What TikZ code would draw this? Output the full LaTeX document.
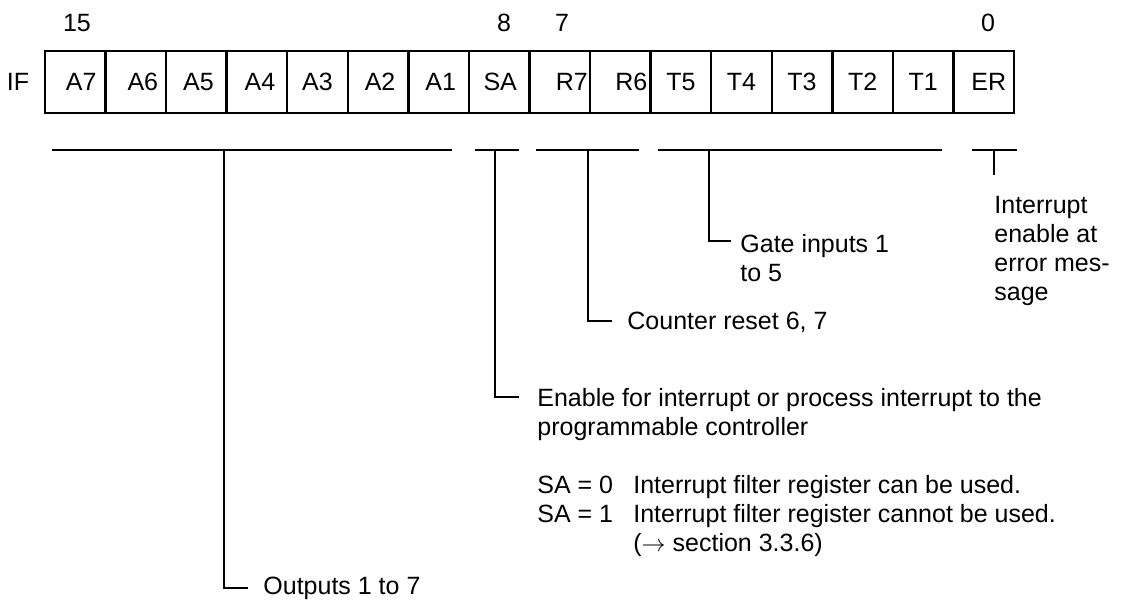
\documentclass[tikz,border=0pt]{standalone}
\usepackage{fontspec}
\setmainfont{Liberation Sans}
\usetikzlibrary{positioning}

\begin{document}
\begin{tikzpicture}[
  x=0.5pt, y=-0.5pt,
  every node/.style={font=\fontsize{12.5pt}{14.5pt}\selectfont, inner sep=0pt},
  bitcell/.style={draw, line width=1.2pt, minimum width=30.28pt, minimum height=31pt},
  brk/.style={line width=1.2pt},
  desc/.style={anchor=north west, align=left},
]
\useasboundingbox (0,0) rectangle (1122,602);
% register word
\node (iflab) at (18,82) {IF};
\foreach \lab/\dx [count=\i from 0] in {A7/6,A6/7,A5/2,A4/3,A3/0,A2/2,A1/2,SA/1,R7/12,R6/11,T5/0,T4/0,T3/0,T2/0,T1/0,ER/5} {
  \node[bitcell] (c\i) at ({45+60.5625*(\i+0.5)},82) {};
  \node (t\i) at ([xshift=0.5*\dx pt]c\i.center) {\lab};
}
% bit numbers
\node (b15) at (77,23) {15};
\node (b8) at (504,23) {8};
\node (b7) at (562,23) {7};
\node (b0) at (988,23) {0};

% outputs
\coordinate (oL) at (52,150); \coordinate (oR) at (452,150);
\coordinate (oS) at (224,150); \coordinate (oE) at (248,588);
\draw[brk] (oL) -- (oR); \draw[brk] (oS) |- (oE);
\node[desc] (outtxt) at ([xshift=7.5pt,yshift=5.5pt]oE) {Outputs 1 to 7};

% SA
\coordinate (sL) at (475,150); \coordinate (sR) at (519,150);
\coordinate (sS) at (495,150); \coordinate (sE) at (519,397);
\draw[brk] (sL) -- (sR); \draw[brk] (sS) |- (sE);
\node[desc] (satxt) at ([xshift=9pt,yshift=4.5pt]sE)
  {Enable for interrupt or process interrupt to the\\programmable controller\\[14.5pt]
   \makebox[48pt][l]{SA = 0}Interrupt filter register can be used.\\
   \makebox[48pt][l]{SA = 1}Interrupt filter register cannot be used.\\
   \hspace*{48pt}($\rightarrow$ section 3.3.6)};

% counter reset
\coordinate (rL) at (536,150); \coordinate (rR) at (639,150);
\coordinate (rS) at (588,150); \coordinate (rE) at (612,321);
\draw[brk] (rL) -- (rR); \draw[brk] (rS) |- (rE);
\node[desc] (rtxt) at ([xshift=7.5pt,yshift=4.5pt]rE) {Counter reset 6, 7};

% gate inputs
\coordinate (gL) at (658,150); \coordinate (gR) at (942,150);
\coordinate (gS) at (709,150); \coordinate (gE) at (731,241);
\draw[brk] (gL) -- (gR); \draw[brk] (gS) |- (gE);
\node[desc] (gtxt) at ([xshift=4.5pt,yshift=3.5pt]gE) {Gate inputs 1\\to 5};

% error interrupt
\coordinate (eL) at (972,150); \coordinate (eR) at (1017,150);
\coordinate (eS) at (994,150); \coordinate (eE) at (994,175);
\draw[brk] (eL) -- (eR); \draw[brk] (eS) -- (eE);
\node[desc] (etxt) at ([yshift=-10.5pt]eE) {Interrupt\\enable at\\error mes-\\sage};
\end{tikzpicture}
\end{document}
